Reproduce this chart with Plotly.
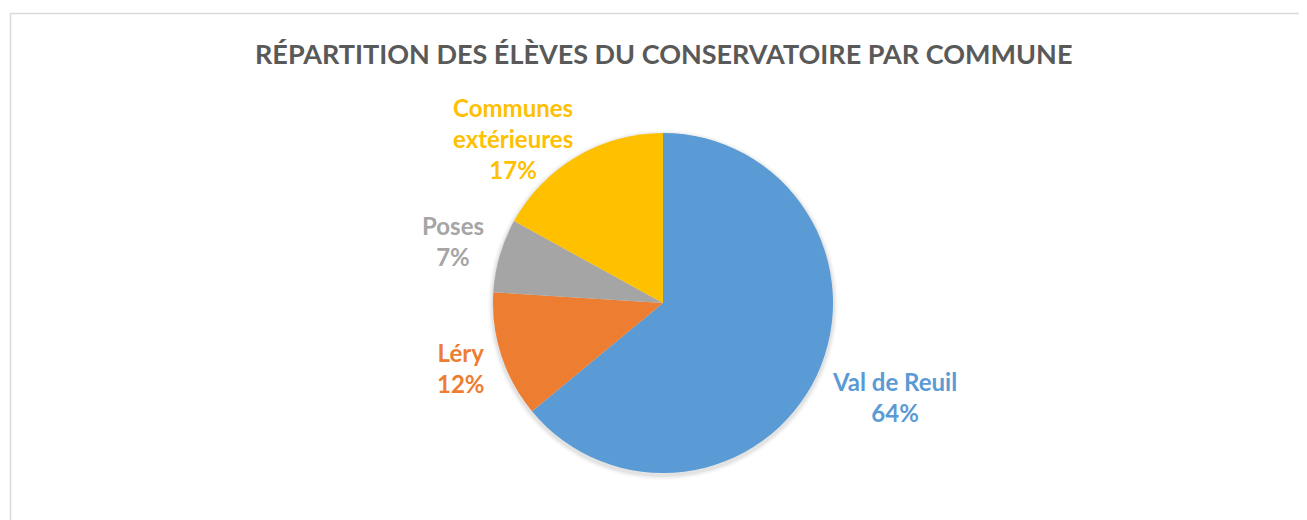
import math
import plotly.graph_objects as go

# ---- data ----
communes = ["Val de Reuil", "Léry", "Poses", "Communes extérieures"]
label_lines = ["Val de Reuil", "Léry", "Poses", "Communes<br>extérieures"]
shares = [64, 12, 7, 17]
colors = ["#5B9BD5", "#ED7D31", "#A5A5A5", "#FFC000"]
title_text = "RÉPARTITION DES ÉLÈVES DU CONSERVATOIRE PAR COMMUNE"

# ---- layout (screen pixels; page body adds an 8px offset) ----
W, H = 1307, 520
OFF = 8
cx, cy, R = 663, 303, 170
FONT = "Lato"
label_nudge = [(32, 0), (8, -3), (2, 0), (-38, 26)]  # fine placement of labels


def px(sx):
    return (sx - OFF) / W


def py(sy):
    return 1 - (sy - OFF) / H


fig = go.Figure()
fig.add_trace(go.Pie(
    labels=communes, values=shares, sort=False, direction="clockwise", rotation=0,
    marker=dict(colors=colors, line=dict(width=0)),
    textinfo="none", hoverinfo="label+percent", showlegend=False,
    domain=dict(x=[px(cx - R), px(cx + R)], y=[py(cy + R), py(cy - R)]),
))

# labels placed from slice mid-angles
total = sum(shares)
cum = 0
annotations = []
for name, v, c, (nx, ny) in zip(label_lines, shares, colors, label_nudge):
    mid = (cum + v / 2) / total * 2 * math.pi
    cum += v
    dx, dy = math.sin(mid), -math.cos(mid)
    rr = R * 1.3
    sx, sy = cx + rr * dx + nx, cy + rr * dy + ny
    annotations.append(dict(
        x=px(sx), y=py(sy), xref="paper", yref="paper",
        text=f"<b>{name}<br>{round(v / total * 100)}%</b>", showarrow=False,
        xanchor="center", yanchor="middle", align="center",
        font=dict(family=FONT, size=24, color=c),
    ))

annotations.append(dict(
    x=px(cx), y=py(53), xref="paper", yref="paper", text=f"<b>{title_text}</b>",
    showarrow=False, xanchor="center", yanchor="middle",
    font=dict(family=FONT, size=27, color="#595959"),
))

shapes = [dict(type="rect", xref="paper", yref="paper",
               x0=px(10.5), x1=1.02, y0=-0.05, y1=py(13.5),
               line=dict(color="#D9D9D9", width=1.5), layer="below")]
# soft shadow under the pie
for grow, alpha in [(5, 0.025), (3.5, 0.035), (2, 0.05)]:
    shapes.append(dict(type="circle", xref="paper", yref="paper",
                       x0=px(cx - R - grow), x1=px(cx + R + grow),
                       y0=py(cy + R + grow + 2), y1=py(cy - R - grow + 2),
                       fillcolor=f"rgba(0,0,0,{alpha})", line=dict(width=0), layer="below"))

fig.update_layout(
    width=W, height=H, margin=dict(l=0, r=0, t=0, b=0),
    paper_bgcolor="white", plot_bgcolor="white",
    annotations=annotations, shapes=shapes,
)
fig.write_html("out.html")
